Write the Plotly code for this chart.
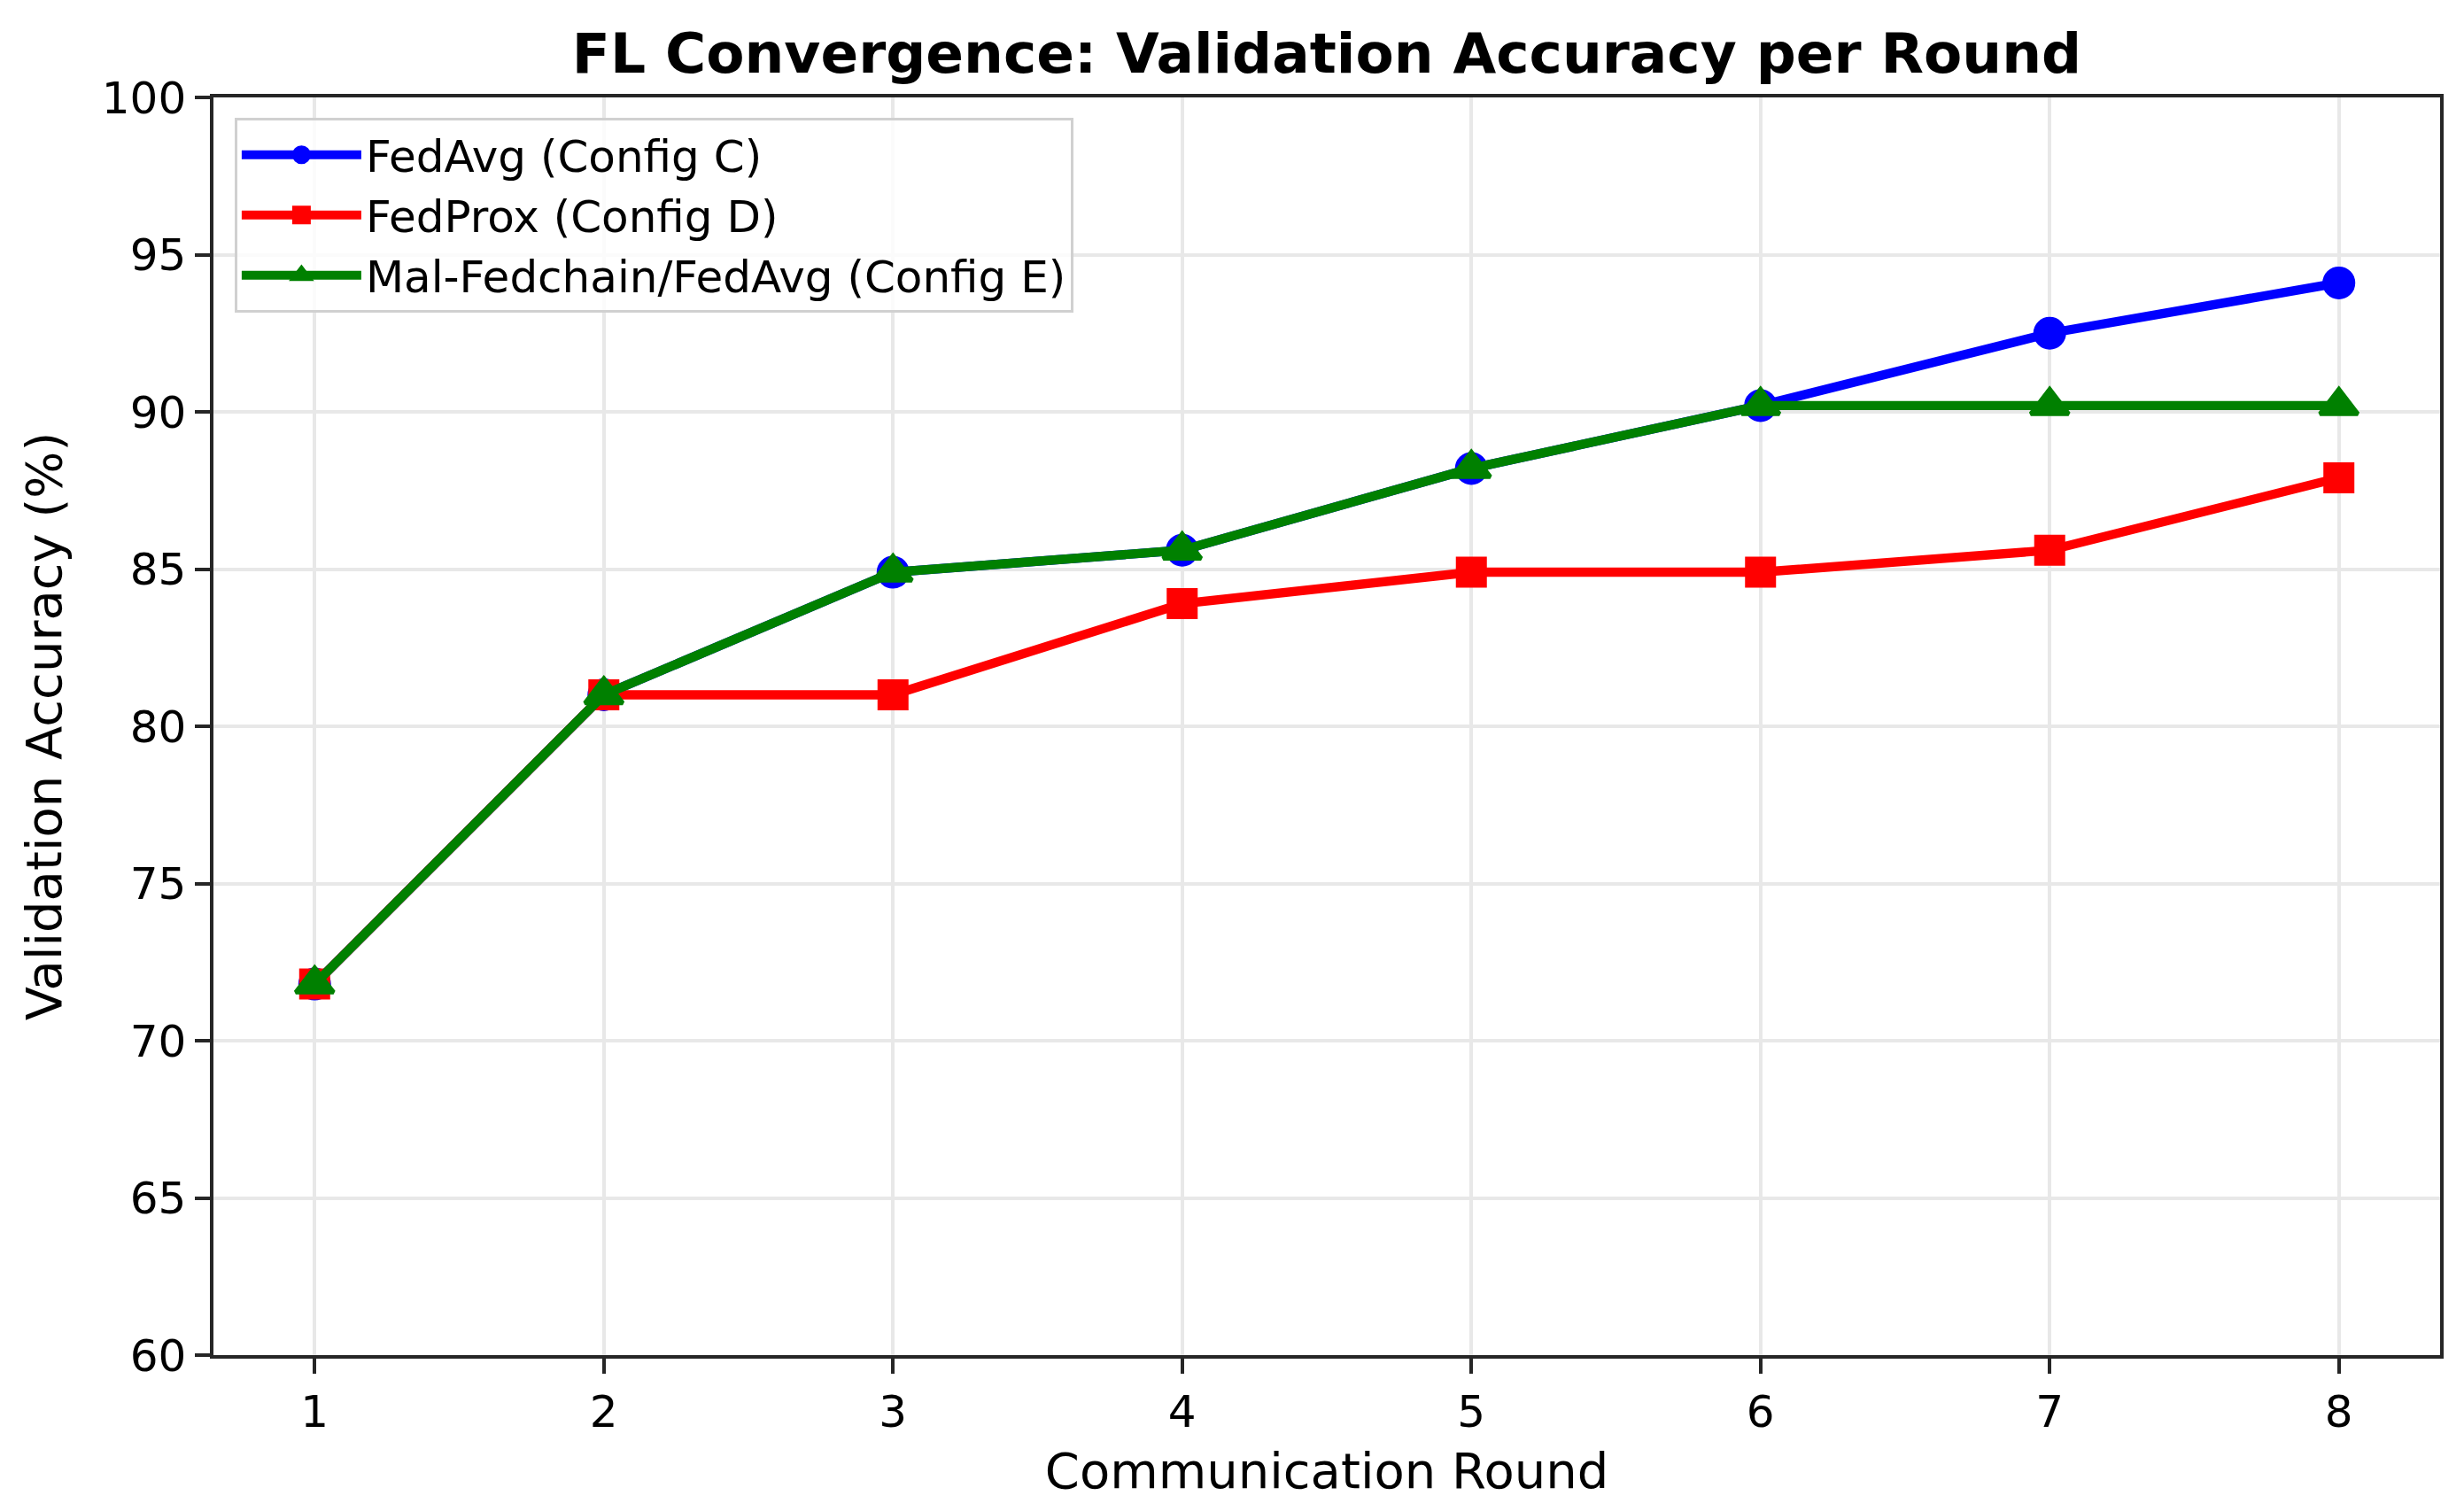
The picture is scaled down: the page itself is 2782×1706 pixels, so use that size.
import plotly.graph_objects as go

rounds = [1, 2, 3, 4, 5, 6, 7, 8]
fedavg_c = [71.8, 81.0, 84.9, 85.6, 88.2, 90.2, 92.5, 94.1]
fedprox_d = [71.8, 81.0, 81.0, 83.9, 84.9, 84.9, 85.6, 87.9]
malfedchain_e = [71.8, 81.0, 84.9, 85.6, 88.2, 90.2, 90.2, 90.2]

series_names = ["FedAvg (Config C)", "FedProx (Config D)", "Mal-Fedchain/FedAvg (Config E)"]
y_ticks = [60, 65, 70, 75, 80, 85, 90, 95, 100]

FONT = "DejaVu Sans"
# page body has an 8px default margin; compensate so the figure fills the window
W, H = 2774, 1698

fig = go.Figure()
styles = [
    (fedavg_c, "blue", "circle", 32),
    (fedprox_d, "red", "square", 30),
    (malfedchain_e, "green", "triangle-up", 37),
]
for (vals, col, sym, ms), name in zip(styles, series_names):
    fig.add_trace(go.Scatter(
        x=rounds, y=vals, name=name, mode="lines+markers",
        line=dict(color=col, width=10.4),
        marker=dict(color=col, symbol=sym, size=ms, line=dict(width=5, color=col)),
    ))

axis_common = dict(
    showline=True, mirror=True, linecolor="#262626", linewidth=3.5,
    ticks="outside", ticklen=17, tickwidth=3.5, tickcolor="#262626",
    showgrid=True, gridcolor="#e8e8e8", gridwidth=3.5, zeroline=False,
    tickfont=dict(family=FONT, size=50, color="black"),
)

fig.update_layout(
    width=W, height=H, autosize=False,
    paper_bgcolor="white", plot_bgcolor="white",
    margin=dict(l=233, r=27, t=102, b=176, pad=0),
    font=dict(family=FONT, color="black"),
    title=dict(
        text="FL Convergence: Validation Accuracy per Round",
        font=dict(family=FONT, size=63, color="black", weight="bold"),
        x=0.5, xref="paper", xanchor="center",
        y=1, yref="paper", yanchor="bottom", pad=dict(b=28),
    ),
    xaxis=dict(
        axis_common, range=[0.65, 8.35], tickmode="array", tickvals=rounds,
        ticktext=[str(r) for r in rounds],
        title=dict(text="Communication Round", font=dict(family=FONT, size=56, color="black"), standoff=20),
    ),
    yaxis=dict(
        axis_common, range=[60, 100], tickmode="array", tickvals=y_ticks,
        ticktext=[str(t) for t in y_ticks],
        title=dict(text="Validation Accuracy (%)", font=dict(family=FONT, size=56, color="black"), standoff=28),
    ),
    legend=dict(
        x=0.0095, y=0.984, xanchor="left", yanchor="top",
        bgcolor="rgba(255,255,255,0.8)", bordercolor="#d0d0d0", borderwidth=3,
        font=dict(family=FONT, size=50, color="black"),
        itemwidth=135, tracegroupgap=0,
    ),
    showlegend=True,
)

fig.write_html("out.html")
